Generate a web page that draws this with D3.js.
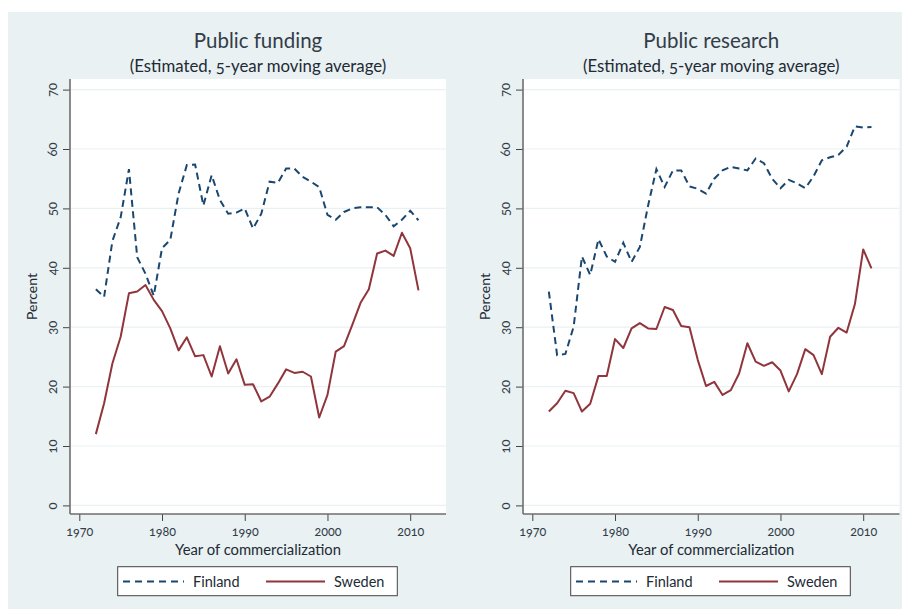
<!DOCTYPE html>
<html>
<head>
<meta charset="utf-8">
<script src="https://cdn.jsdelivr.net/npm/d3@7"></script>
<style>
  html, body { margin: 0; padding: 0; background: #ffffff; }
  svg { display: block; font-family: Lato, "Open Sans", sans-serif; font-variant-numeric: oldstyle-nums; }
</style>
</head>
<body>
<svg id="chart" width="902" height="609"></svg>
<script>
// Year of commercialization, shared by all series
const years = d3.range(1972, 2012);

// Public funding share (percent, 5-year moving average)
const fundingFinland = [36.4, 35.1, 44.5, 48.5, 56.6, 41.8, 39.0, 35.3, 43.3, 44.7,
                        52.5, 57.3, 57.4, 50.5, 55.6, 51.4, 49.1, 49.3, 50.0, 46.6,
                        49.1, 54.5, 54.3, 56.7, 56.7, 55.3, 54.5, 53.6, 48.9, 48.1,
                        49.4, 50.0, 50.2, 50.2, 50.2, 48.9, 47.0, 48.1, 49.6, 48.0];
const fundingSweden  = [12.0, 17.2, 23.9, 28.4, 35.7, 36.0, 37.1, 34.6, 32.7, 29.8,
                        26.1, 28.3, 25.1, 25.3, 21.7, 26.8, 22.2, 24.6, 20.3, 20.4,
                        17.5, 18.3, 20.5, 22.9, 22.3, 22.5, 21.7, 14.8, 18.6, 25.9,
                        26.8, 30.4, 34.1, 36.4, 42.4, 42.9, 42.0, 45.9, 43.3, 36.2];

// Public research share (percent, 5-year moving average)
const researchFinland = [36.0, 25.3, 25.5, 30.1, 41.9, 38.8, 44.8, 41.9, 41.0, 44.2,
                         41.0, 43.5, 50.5, 56.6, 53.6, 56.4, 56.4, 53.7, 53.3, 52.5,
                         55.0, 56.4, 57.0, 56.7, 56.4, 58.4, 57.6, 55.0, 53.4, 54.8,
                         54.2, 53.4, 55.4, 58.1, 58.6, 59.0, 60.4, 63.8, 63.6, 63.7];
const researchSweden  = [15.8, 17.2, 19.3, 18.9, 15.8, 17.1, 21.8, 21.8, 28.0, 26.5,
                         29.8, 30.7, 29.8, 29.7, 33.4, 32.9, 30.2, 30.0, 24.5, 20.1,
                         20.8, 18.6, 19.4, 22.2, 27.3, 24.2, 23.5, 24.1, 22.7, 19.2,
                         22.1, 26.3, 25.3, 22.1, 28.4, 29.9, 29.1, 33.9, 43.1, 39.9];

// Axis ticks and labels
const xTicks = [1970, 1980, 1990, 2000, 2010];
const yTicks = [0, 10, 20, 30, 40, 50, 60, 70];
const panelTitles = ["Public funding", "Public research"];
const subtitle = "(Estimated, 5-year moving average)";
const xAxisTitle = "Year of commercialization";
const yAxisTitle = "Percent";
const seriesNames = ["Finland", "Sweden"];

const panels = [
  { title: panelTitles[0], finland: fundingFinland, sweden: fundingSweden },
  { title: panelTitles[1], finland: researchFinland, sweden: researchSweden }
];

const colors = { finland: "#1a476f", sweden: "#90353b" };
const bg = "#e9f1f3";
const textColor = "#333d48";

const svg = d3.select("#chart");

// Outer graph region
svg.append("rect")
  .attr("x", 8).attr("y", 12).attr("width", 894).attr("height", 597)
  .attr("fill", bg);

const panelShift = 453;

panels.forEach((p, i) => {
  const g = svg.append("g").attr("transform", `translate(${i * panelShift},0)`);

  const plotLeft = 70, plotRight = 446 + (i === 1 ? 0.5 : 0), plotTop = 79, plotBottom = 514;

  const x = d3.scaleLinear().domain([1970, 2010]).range([79.3, 410.2]);
  const y = d3.scaleLinear().domain([0, 70]).range([505.4, 89.6]);

  // Plot region
  g.append("rect")
    .attr("x", plotLeft).attr("y", plotTop)
    .attr("width", plotRight - plotLeft).attr("height", plotBottom - plotTop)
    .attr("fill", "#ffffff");

  // Horizontal gridlines
  g.append("g").selectAll("line").data(yTicks).join("line")
    .attr("x1", plotLeft).attr("x2", plotRight)
    .attr("y1", d => y(d)).attr("y2", d => y(d))
    .attr("stroke", bg).attr("stroke-width", 1.2);

  // Y axis
  const yAxis = g.append("g")
    .attr("transform", `translate(${plotLeft},0)`)
    .call(d3.axisLeft(y).tickValues(yTicks).tickSize(7).tickPadding(10).tickFormat(d3.format("d")));
  yAxis.select(".domain").remove();
  yAxis.selectAll(".tick line").attr("stroke", "#444").attr("stroke-width", 1);
  yAxis.selectAll(".tick text")
    .attr("fill", textColor).attr("font-size", 13)
    .attr("font-family", "Lato, sans-serif")
    .attr("text-anchor", "middle")
    .attr("x", null).attr("dy", null)
    .attr("transform", "translate(-18,0) rotate(-90)")
    .attr("dominant-baseline", "central");

  // X axis
  const xAxis = g.append("g")
    .attr("transform", `translate(0,${plotBottom})`)
    .call(d3.axisBottom(x).tickValues(xTicks).tickSize(7).tickPadding(6).tickFormat(d3.format("d")));
  xAxis.select(".domain").remove();
  xAxis.selectAll(".tick line").attr("stroke", "#444").attr("stroke-width", 1);
  xAxis.selectAll(".tick text")
    .attr("fill", textColor).attr("font-size", 12.5)
    .attr("font-family", "Lato, sans-serif");

  // Axis lines
  g.append("line")
    .attr("x1", plotLeft).attr("x2", plotLeft)
    .attr("y1", plotTop).attr("y2", plotBottom)
    .attr("stroke", "#6e6e6e").attr("stroke-width", 1.6);
  g.append("line")
    .attr("x1", plotLeft).attr("x2", plotRight)
    .attr("y1", plotBottom).attr("y2", plotBottom)
    .attr("stroke", "#6e6e6e").attr("stroke-width", 1.6);

  // Series lines
  const line = d3.line().x((d, k) => x(years[k])).y(d => y(d));
  g.append("path").datum(p.finland)
    .attr("d", line).attr("fill", "none")
    .attr("stroke", colors.finland).attr("stroke-width", 2)
    .attr("stroke-dasharray", "7,4.5");
  g.append("path").datum(p.sweden)
    .attr("d", line).attr("fill", "none")
    .attr("stroke", colors.sweden).attr("stroke-width", 2)
    .attr("stroke-linejoin", "round");

  // Titles
  const cx = (plotLeft + plotRight) / 2;
  g.append("text")
    .attr("x", cx).attr("y", 48)
    .attr("text-anchor", "middle")
    .attr("font-size", 20.5).attr("fill", textColor)
    .text(p.title);
  g.append("text")
    .attr("x", cx).attr("y", 72)
    .attr("text-anchor", "middle")
    .attr("font-size", 16.8).attr("fill", "#222a33")
    .text(subtitle);

  // Axis titles
  g.append("text")
    .attr("x", cx).attr("y", 555)
    .attr("text-anchor", "middle")
    .attr("font-size", 14.8).attr("fill", "#222a33")
    .text(xAxisTitle);
  g.append("text")
    .attr("transform", `translate(37,${(plotTop + plotBottom) / 2}) rotate(-90)`)
    .attr("text-anchor", "middle")
    .attr("font-size", 14).attr("fill", "#222a33")
    .text(yAxisTitle);

  // Legend
  const lg = g.append("g");
  lg.append("rect")
    .attr("x", 117.7).attr("y", 566.7).attr("width", 279.6).attr("height", 29)
    .attr("fill", "#ffffff").attr("stroke", "#444").attr("stroke-width", 1);
  const ly = 581.5;
  lg.append("line")
    .attr("x1", 123).attr("x2", 184).attr("y1", ly).attr("y2", ly)
    .attr("stroke", colors.finland).attr("stroke-width", 2)
    .attr("stroke-dasharray", "7,5");
  lg.append("text")
    .attr("x", 193).attr("y", ly).attr("dy", "0.36em")
    .attr("font-size", 14.5).attr("fill", "#222a33")
    .text(seriesNames[0]);
  lg.append("line")
    .attr("x1", 266).attr("x2", 325).attr("y1", ly).attr("y2", ly)
    .attr("stroke", colors.sweden).attr("stroke-width", 2);
  lg.append("text")
    .attr("x", 334).attr("y", ly).attr("dy", "0.36em")
    .attr("font-size", 14.5).attr("fill", "#222a33")
    .text(seriesNames[1]);
});
</script>
</body>
</html>
